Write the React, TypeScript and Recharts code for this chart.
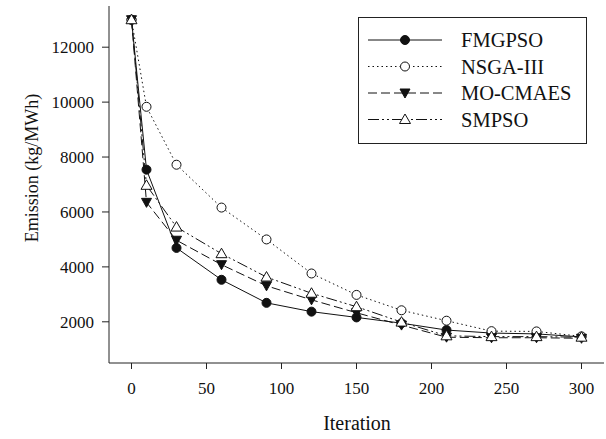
import React from 'react';
import { LineChart, Line, XAxis, YAxis } from 'recharts';

const iterations = [0, 10, 30, 60, 90, 120, 150, 180, 210, 240, 270, 300];
const fmgpso = [13000, 7540, 4690, 3530, 2690, 2370, 2160, 1950, 1700, 1590, 1560, 1450];
const nsga3 = [13000, 9830, 7720, 6160, 5000, 3760, 2980, 2420, 2040, 1660, 1650, 1470];
const mocmaes = [13000, 6350, 4970, 4080, 3310, 2800, 2330, 1880, 1440, 1420, 1420, 1400];
const smpso = [13000, 6970, 5450, 4480, 3630, 3040, 2550, 1990, 1490, 1460, 1460, 1440];

const xTicks = [0, 50, 100, 150, 200, 250, 300];
const yTicks = [2000, 4000, 6000, 8000, 10000, 12000];

const data = iterations.map((it, i) => ({
  it,
  fm: fmgpso[i],
  ns: nsga3[i],
  mo: mocmaes[i],
  sm: smpso[i],
}));

const FONT = '"Liberation Serif", "Times New Roman", serif';
const INK = '#111';

type Marker = 'filledCircle' | 'openCircle' | 'filledDown' | 'openUp';

const drawMarker = (kind: Marker, cx: number, cy: number, key?: any) => {
  switch (kind) {
    case 'filledCircle':
      return <circle key={key} cx={cx} cy={cy} r={4.5} fill={INK} stroke={INK} strokeWidth={1} />;
    case 'openCircle':
      return <circle key={key} cx={cx} cy={cy} r={4.5} fill="#fff" stroke={INK} strokeWidth={1} />;
    case 'filledDown':
      return (
        <path key={key} d={`M${cx - 5},${cy - 4}L${cx + 5},${cy - 4}L${cx},${cy + 5}Z`} fill={INK} stroke={INK} strokeWidth={1} />
      );
    case 'openUp':
    default:
      return (
        <path key={key} d={`M${cx},${cy - 5.5}L${cx + 5.5},${cy + 4}L${cx - 5.5},${cy + 4}Z`} fill="#fff" stroke={INK} strokeWidth={1} />
      );
  }
};

const series = [
  { key: 'fm', name: 'FMGPSO', dash: undefined as string | undefined, marker: 'filledCircle' as Marker },
  { key: 'ns', name: 'NSGA-III', dash: '1.5 3', marker: 'openCircle' as Marker },
  { key: 'mo', name: 'MO-CMAES', dash: '9 4', marker: 'filledDown' as Marker },
  { key: 'sm', name: 'SMPSO', dash: '11 3 2 3 2 3', marker: 'openUp' as Marker },
];

const LegendBox = () => (
  <svg width={229} height={127} style={{ display: 'block' }}>
    <rect x={0.5} y={0.5} width={228} height={126} fill="#fff" stroke="#222" strokeWidth={1} />
    {series.map((s, i) => {
      const y = 23 + i * 26.5;
      return (
        <g key={s.key}>
          <line x1={10} x2={84} y1={y} y2={y} stroke={INK} strokeWidth={1} strokeDasharray={s.dash} />
          {drawMarker(s.marker, 47, y)}
          <text x={103} y={y + 7} fontFamily={FONT} fontSize={20.5} fill={INK}>
            {s.name}
          </text>
        </g>
      );
    })}
  </svg>
);

const XTick = (p: any) => (
  <text x={p.x} y={p.y} dy="0.71em" textAnchor="middle" fontFamily={FONT} fontSize={17} fill={INK}>
    {p.payload.value}
  </text>
);

const YTick = (p: any) => (
  <text x={p.x} y={p.y} dy="0.355em" textAnchor="end" fontFamily={FONT} fontSize={17} fill={INK}>
    {p.payload.value}
  </text>
);

export default function App() {
  return (
    <div
      style={{
        position: 'absolute',
        left: 0,
        top: 0,
        width: 606,
        height: 439,
        background: '#fff',
        fontFamily: FONT,
      }}
    >
      <LineChart
        width={606}
        height={439}
        data={data}
        margin={{ top: 6, right: 2, left: 49, bottom: 0 }}
      >
        <XAxis
          dataKey="it"
          type="number"
          domain={[-15, 315]}
          ticks={xTicks}
          allowDataOverflow
          height={76}
          tickSize={6}
          tickMargin={13}
          stroke="#222"
          tick={XTick}
          label={{
            value: 'Iteration',
            content: () => (
              <text x={357} y={430} textAnchor="middle" fontFamily={FONT} fontSize={20} fill={INK}>
                Iteration
              </text>
            ),
          }}
        />
        <XAxis
          xAxisId="top"
          dataKey="it"
          type="number"
          domain={[-15, 315]}
          orientation="top"
          height={0}
          tick={false}
          tickLine={false}
          stroke="#222"
        />
        <YAxis
          type="number"
          domain={[500, 13500]}
          ticks={yTicks}
          allowDataOverflow
          width={60}
          tickSize={7}
          tickMargin={8}
          stroke="#222"
          tick={YTick}
          label={{
            value: 'Emission (kg/MWh)',
            content: () => (
              <text
                x={38}
                y={168}
                transform="rotate(-90 38 168)"
                textAnchor="middle"
                fontFamily={FONT}
                fontSize={18}
                fill={INK}
              >
                Emission (kg/MWh)
              </text>
            ),
          }}
        />
        <YAxis
          yAxisId="right"
          orientation="right"
          type="number"
          domain={[500, 13500]}
          width={0}
          tick={false}
          tickLine={false}
          stroke="#222"
        />
        {series.map((s) => (
          <Line
            key={s.key}
            dataKey={s.key}
            name={s.name}
            type="linear"
            stroke={INK}
            strokeWidth={1}
            strokeDasharray={s.dash}
            isAnimationActive={false}
            dot={(p: any) => drawMarker(s.marker, p.cx, p.cy, `${s.key}-${p.index}`)}
            activeDot={false}
          />
        ))}
      </LineChart>
      <div style={{ position: 'absolute', left: 358, top: 17 }}>
        <LegendBox />
      </div>
    </div>
  );
}
